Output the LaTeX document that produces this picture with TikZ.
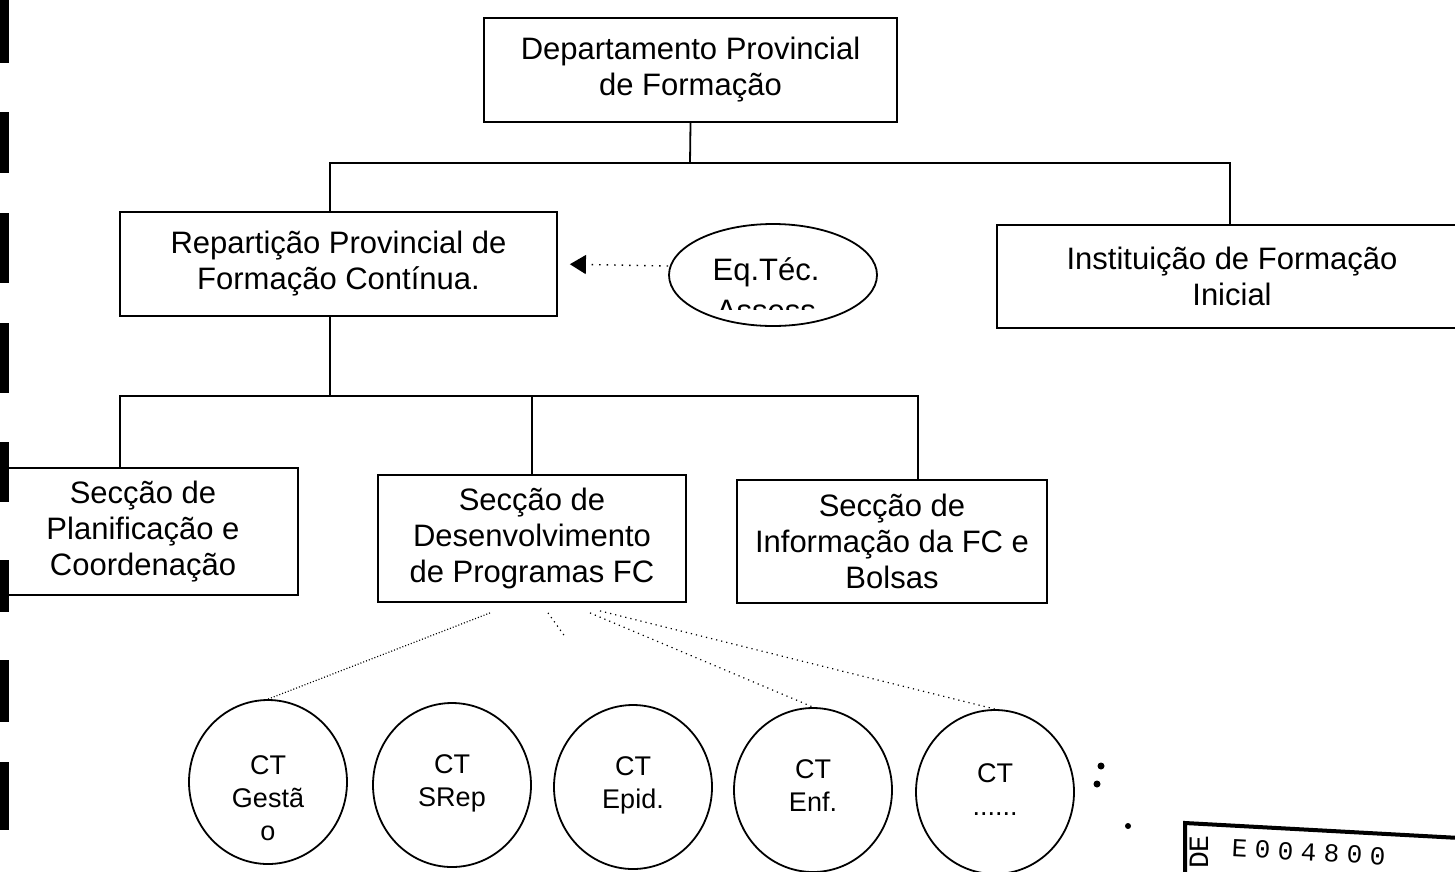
\documentclass[tikz,border=0pt]{standalone}
\usepackage{fontspec}
\setmainfont{Liberation Sans}
\newfontfamily\stampfont{Liberation Mono}
\usetikzlibrary{shapes.geometric,arrows.meta}
\newcommand\stc[1]{\makebox[23pt]{#1}}
\begin{document}
\begin{tikzpicture}[x=1pt,y=-1pt,
  box/.style={draw,line width=1.8pt,inner sep=0pt,align=center,font=\fontsize{31}{36}\selectfont},
  conn/.style={line width=1.8pt},
  ct/.style={draw,ellipse,line width=1.8pt,minimum width=158pt,minimum height=164pt,inner sep=0pt},
  cttext/.style={align=center,font=\fontsize{27}{33}\selectfont},
  eqtext/.style={font=\fontsize{31}{36}\selectfont,anchor=base,inner sep=0pt},
  dense/.style={line width=1.2pt,dash pattern=on 1pt off 2pt},
  sparse/.style={line width=1.2pt,dash pattern=on 1.2pt off 4pt},
  veryspare/.style={line width=1.4pt,dash pattern=on 1.5pt off 6pt},
  bar/.style={fill=black}]
\useasboundingbox (0,0) rectangle (1455,871);

% scan marks on the left edge
\foreach \a/\b in {0/63,112/173,213/283,323/393,442/502,560/612,660/722,762/830}
  \fill[bar] (0,\a) rectangle (9,\b);

% boxes
\node[box,minimum width=413pt,minimum height=104pt] (dep) at (690.5,70) {Departamento Provincial\\de Formação};
\node[box,minimum width=437pt,minimum height=104pt] (rep) at (338.5,264) {Repartição Provincial de\\Formação Contínua.};
\node[box,minimum width=470pt,minimum height=103pt] (inst) at (1232,276.5) {Instituição de Formação\\Inicial};
\node[box,minimum width=310pt,minimum height=127pt] (spc) at (143,531.5) {Secção de\\Planificação e\\Coordenação};
\node[box,minimum width=308pt,minimum height=127pt] (sdp) at (532,538.5) {Secção de\\Desenvolvimento\\de Programas FC};
\node[box,minimum width=310pt,minimum height=123pt] (sif) at (892,541.5) {Secção de\\Informação da FC e\\Bolsas};

% ellipse
\node[draw,ellipse,line width=1.8pt,minimum width=208pt,minimum height=102pt] (eq) at (773,275) {};
\begin{scope}
  \clip (660,230) rectangle (890,309);
  \node[eqtext] (eqa) at (766,280) {Eq.Téc.};
  \node[eqtext] (eqb) at (766,321) {Assess};
\end{scope}
\draw[veryspare,-{Triangle[length=16pt,width=19pt]},shorten >=12pt] ([yshift=9pt]eq.west) -- (rep.east);

% tree connectors
\coordinate (b1) at (690,163);
\draw[conn] (dep.south) -- (b1);
\draw[conn] ([xshift=-8.5pt]rep.north) |- (b1) -| ([xshift=-2pt]inst.north);
\coordinate (b2) at (330,396);
\draw[conn] ([xshift=-8.5pt]rep.south) -- (b2);
\draw[conn] ([xshift=-23pt]spc.north) |- (b2) -| ([xshift=26pt]sif.north);
\draw[conn] (sdp.north) -- (sdp.north |- b2);

% CT circles
\node[ct] (c1) at (268,782) {};
\node[ct] (c2) at (452,785) {};
\node[ct] (c3) at (633,787) {};
\node[ct] (c4) at (813,790) {};
\node[ct] (c5) at (995,792) {};
\node[cttext] (t1) at (268,798) {CT\\Gestã\\o};
\node[cttext] (t2) at (452,783) {CT\\SRep};
\node[cttext] (t3) at (633,785) {CT\\Epid.};
\node[cttext] (t4) at (813,786) {CT\\Enf.};
\node[cttext] (t5) at (995,790) {CT\\......};

% dotted links
\draw[dense] ([xshift=-42pt,yshift=-10pt]sdp.south) -- (c1.north);
\coordinate (s3) at (566,638);
\draw[sparse] ([xshift=16pt,yshift=-10pt]sdp.south) -- (s3);
\draw[sparse] ([xshift=58pt,yshift=-10pt]sdp.south) -- (c4.north);
\draw[sparse] ([xshift=68pt,yshift=-8pt]sdp.south) -- (c5.north);

% stray marks
\fill (1101,766) circle (3.5);
\fill (1097,784) circle (3.5);
\fill (1128,826) circle (3);

% stamp
\draw[line width=4pt] (1185,875) -- (1185,823) -- (1460,838);
\node[font=\stampfont\fontsize{28}{28}\selectfont,rotate=90] (stampde) at (1199,852) {DE};
\node[font=\stampfont\fontsize{26}{26}\selectfont,rotate=-3,anchor=west,inner sep=0pt] (stampno) at (1228,848) {\stc{E}\stc{0}\stc{0}\stc{4}\stc{8}\stc{0}\stc{0}};
\end{tikzpicture}
\end{document}
